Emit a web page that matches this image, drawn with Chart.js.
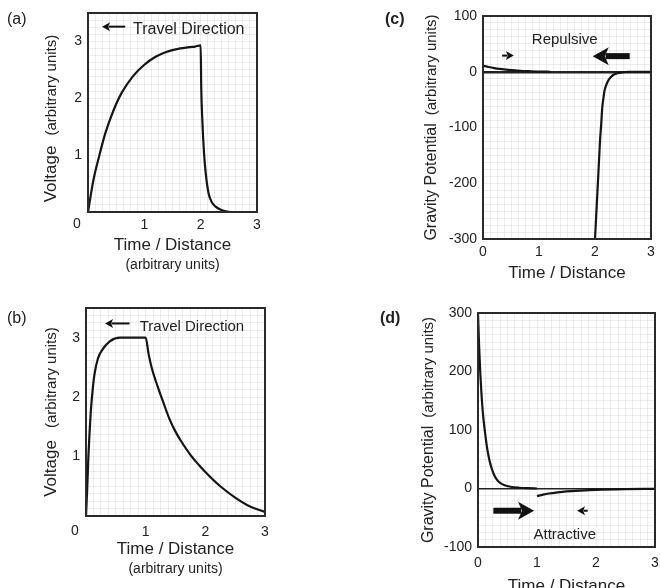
<!DOCTYPE html>
<html lang="en">
<head>
<meta charset="UTF-8">
<title>Voltage pulses and gravity potential</title>
<script src="https://cdn.jsdelivr.net/npm/chart.js"></script>
<style>
  body { margin: 0; background: #fff; }
  #page { position: relative; width: 660px; height: 588px; overflow: hidden; font-family: "Liberation Sans", Arial, sans-serif; color: #222; }
  .panel { position: absolute; width: 330px; height: 294px; }
  .tag { position: absolute; font-size: 16px; }
</style>
</head>
<body>
<div id="page">
  <div class="panel" style="left:0;top:0"><canvas id="chartA" width="330" height="294"></canvas></div>
  <div class="panel" style="left:0;top:294px"><canvas id="chartB" width="330" height="294"></canvas></div>
  <div class="panel" style="left:330px;top:0"><canvas id="chartC" width="330" height="294"></canvas></div>
  <div class="panel" style="left:330px;top:294px"><canvas id="chartD" width="330" height="294"></canvas></div>
  <div class="tag" style="left:7px;top:10px">(a)</div>
  <div class="tag" style="left:7px;top:309px">(b)</div>
  <div class="tag" style="left:385px;top:10px;font-weight:bold">(c)</div>
  <div class="tag" style="left:380px;top:309px;font-weight:bold">(d)</div>
</div>

<script>
// (a) voltage: slow rise, sharp fall at t = 2
var xA = [0, 0.1, 0.2, 0.3, 0.4, 0.5, 0.6, 0.8, 1.0, 1.2, 1.4, 1.6, 1.8, 1.9, 2.0, 2.01, 2.03, 2.06, 2.09, 2.14, 2.18, 2.22, 2.3, 2.37, 2.45, 2.52];
var yA = [0, 0.58, 0.99, 1.36, 1.65, 1.9, 2.1, 2.39, 2.59, 2.73, 2.82, 2.87, 2.9, 2.91, 2.93, 2.2, 1.6, 1.03, 0.68, 0.33, 0.21, 0.14, 0.07, 0.035, 0.01, 0];

// (b) voltage: sharp rise, flat top, slow fall after t = 1
var xB = [0, 0.02, 0.04, 0.06, 0.08, 0.1, 0.14, 0.2, 0.29, 0.4, 0.57, 0.8, 1.0, 1.05, 1.1, 1.2, 1.3, 1.4, 1.5, 1.6, 1.75, 1.9, 2.0, 2.25, 2.5, 2.75, 3.0];
var yB = [0, 0.45, 1.0, 1.41, 1.75, 2.0, 2.37, 2.65, 2.82, 2.94, 3.0, 3.0, 3.0, 2.72, 2.5, 2.18, 1.9, 1.63, 1.42, 1.25, 1.03, 0.85, 0.74, 0.5, 0.31, 0.16, 0.07];

// (c) gravity potential, repulsive: two pieces
var xC1 = [0, 0.1, 0.2, 0.3, 0.45, 0.6, 0.8, 1.0, 1.2];
var yC1 = [11, 8.5, 6.5, 5, 3.3, 2.2, 1, 0.4, 0];
var xC2 = [2.0, 2.03, 2.06, 2.09, 2.11, 2.13, 2.15, 2.17, 2.2, 2.23, 2.28, 2.34, 2.4, 2.48, 2.6, 3.0];
var yC2 = [-300, -242, -183, -123, -95, -64, -48, -34, -24, -17, -10, -5, -2.8, -1, 0, 0];

// (d) gravity potential, attractive: two pieces
var xD1 = [0, 0.02, 0.04, 0.06, 0.08, 0.1, 0.12, 0.15, 0.19, 0.23, 0.27, 0.32, 0.38, 0.45, 0.55, 0.7, 0.85, 1.0];
var yD1 = [300, 240, 195, 160, 132, 112, 95, 72, 50, 35, 24, 15, 9, 5.5, 3, 1.3, 0.5, 0];
var xD2 = [1.0, 1.1, 1.2, 1.35, 1.5, 1.75, 2.0, 2.5, 3.0];
var yD2 = [-13, -10.5, -8.5, -6.5, -5, -3.5, -2.4, -1.2, -0.6];

var FONT = '"Liberation Sans", Arial, sans-serif';
var INK = '#222';
var GRID = 'rgba(0,0,0,0.07)';

function labelEvery(step, hideZero) {
  return function (v) {
    var k = v / step;
    if (Math.abs(k - Math.round(k)) > 1e-6) return '';
    if (hideZero && Math.abs(v) < 1e-9) return '';
    return String(Math.round(v));
  };
}

function drawArrow(ctx, x1, x2, y, heavy) {
  // x1 tail, x2 head
  var dir = x2 > x1 ? 1 : -1;
  var headLen = heavy ? 16 : 8;
  var headHalf = heavy ? 9 : 4.5;
  ctx.fillStyle = '#111';
  ctx.strokeStyle = '#111';
  ctx.lineWidth = heavy ? 6 : 2;
  ctx.beginPath();
  ctx.moveTo(x1, y);
  ctx.lineTo(x2 - dir * headLen * 0.8, y);
  ctx.stroke();
  ctx.beginPath();
  ctx.moveTo(x2, y);
  ctx.lineTo(x2 - dir * headLen, y - headHalf);
  ctx.lineTo(x2 - dir * headLen * 0.75, y);
  ctx.lineTo(x2 - dir * headLen, y + headHalf);
  ctx.closePath();
  ctx.fill();
}

var decor = {
  id: 'decor',
  afterDraw: function (chart, args, o) {
    var ctx = chart.ctx, a = chart.chartArea, sx = chart.scales.x, sy = chart.scales.y;
    ctx.save();
    // frame around the plot
    ctx.strokeStyle = '#2a2a2a';
    ctx.lineWidth = 2;
    ctx.strokeRect(a.left, a.top, a.right - a.left, a.bottom - a.top);

    ctx.fillStyle = INK;

    // one shared "0" below-left of the origin
    if (o.origin) {
      ctx.font = '14px ' + FONT;
      ctx.textAlign = 'center';
      ctx.textBaseline = 'middle';
      ctx.fillText('0', a.left - 11, a.bottom + o.origin);
    }

    // y title, two font sizes, rotated
    ctx.textBaseline = 'alphabetic';
    var cy = (a.top + a.bottom) / 2 + (o.yShift || 0);
    ctx.save();
    ctx.translate(o.yTitleX, cy);
    ctx.rotate(-Math.PI / 2);
    ctx.font = o.yMain + 'px ' + FONT;
    var w1 = ctx.measureText(o.yTitle[0]).width;
    ctx.font = '15px ' + FONT;
    var w2 = ctx.measureText(o.yTitle[1]).width;
    var start = -(w1 + o.yGap + w2) / 2;
    ctx.textAlign = 'left';
    ctx.font = o.yMain + 'px ' + FONT;
    ctx.fillText(o.yTitle[0], start, 6);
    ctx.font = '15px ' + FONT;
    ctx.fillText(o.yTitle[1], start + w1 + o.yGap, 6);
    ctx.restore();

    // x title
    var cx = (a.left + a.right) / 2;
    ctx.textAlign = 'center';
    ctx.textBaseline = 'middle';
    ctx.font = '17px ' + FONT;
    ctx.fillText(o.xTitle[0], cx, o.xTitleY[0]);
    if (o.xTitle[1]) {
      ctx.font = '14px ' + FONT;
      ctx.fillText(o.xTitle[1], cx, o.xTitleY[1]);
    }

    // notes and arrows, placed in data units
    (o.notes || []).forEach(function (n) {
      var py = sy.getPixelForValue(n.y);
      if (n.kind === 'text') {
        ctx.font = n.size + 'px ' + FONT;
        ctx.textAlign = n.align;
        ctx.fillStyle = INK;
        ctx.fillText(n.text, sx.getPixelForValue(n.x), py);
      } else {
        drawArrow(ctx, sx.getPixelForValue(n.from), sx.getPixelForValue(n.to), py, n.heavy);
      }
    });
    ctx.restore();
  }
};

function series(xs, ys) {
  return {
    data: xs.map(function (x, i) { return { x: x, y: ys[i] }; }),
    showLine: true,
    borderColor: '#151515',
    borderWidth: 2.2,
    pointRadius: 0,
    cubicInterpolationMode: 'monotone'
  };
}

function panel(id, datasets, o) {
  return new Chart(document.getElementById(id), {
    type: 'scatter',
    data: { datasets: datasets },
    options: {
      responsive: false,
      animation: false,
      events: [],
      layout: { padding: o.pad },
      plugins: { legend: { display: false }, tooltip: { enabled: false }, decor: o.decor },
      scales: {
        x: {
          type: 'linear', min: 0, max: 3,
          afterFit: function (s) { s.height = 20; s.paddingLeft = 0; s.paddingRight = 0; },
          border: { display: false },
          grid: { color: GRID, drawTicks: false },
          ticks: { stepSize: 0.125, autoSkip: false, maxRotation: 0, padding: o.xPad,
                   callback: labelEvery(1, !!o.decor.origin), color: INK, font: { family: FONT, size: 14 } }
        },
        y: {
          type: 'linear', min: o.yMin, max: o.yMax,
          afterFit: function (s) { s.width = o.yW; s.paddingTop = 0; s.paddingBottom = 0; },
          border: { display: false },
          grid: {
            drawTicks: false,
            color: function (c) { return c.tick && c.tick.value === 0 ? '#222' : GRID; },
            lineWidth: function (c) { return c.tick && c.tick.value === 0 ? o.zeroW : 1; }
          },
          ticks: { stepSize: o.yStep, autoSkip: false, padding: 6,
                   callback: labelEvery(o.yLabelStep, !!o.decor.origin), color: INK, font: { family: FONT, size: 14 } }
        }
      }
    },
    plugins: [decor]
  });
}

panel('chartA', [series(xA, yA)], {
  pad: { left: 58, right: 73, top: 13, bottom: 62 }, yW: 30, xPad: 5,
  yMin: 0, yMax: 3.5, yStep: 0.125, yLabelStep: 1, zeroW: 1,
  decor: {
    origin: 12,
    yTitle: ['Voltage', '(arbitrary units)'], yMain: 17, yGap: 10, yTitleX: 50, yShift: 6,
    xTitle: ['Time / Distance', '(arbitrary units)'], xTitleY: [245, 265],
    notes: [
      { kind: 'arrow', from: 0.66, to: 0.25, y: 3.26, heavy: false },
      { kind: 'text', x: 0.8, y: 3.2, text: 'Travel Direction', size: 16, align: 'left' }
    ]
  }
});

panel('chartB', [series(xB, yB)], {
  pad: { left: 56, right: 65, top: 14, bottom: 52 }, yW: 30, xPad: 8,
  yMin: 0, yMax: 3.5, yStep: 0.125, yLabelStep: 1, zeroW: 1,
  decor: {
    origin: 15,
    yTitle: ['Voltage', '(arbitrary units)'], yMain: 17, yGap: 12, yTitleX: 50, yShift: 0,
    xTitle: ['Time / Distance', '(arbitrary units)'], xTitleY: [255, 275],
    notes: [
      { kind: 'arrow', from: 0.73, to: 0.32, y: 3.24, heavy: false },
      { kind: 'text', x: 0.9, y: 3.18, text: 'Travel Direction', size: 15, align: 'left' }
    ]
  }
});

panel('chartC', [series(xC1, yC1), series(xC2, yC2)], {
  pad: { left: 113, right: 9, top: 16, bottom: 35 }, yW: 40, xPad: 5,
  yMin: -300, yMax: 100, yStep: 12.5, yLabelStep: 100, zeroW: 2.5,
  decor: {
    yTitle: ['Gravity Potential', '(arbitrary units)'], yMain: 16, yGap: 8, yTitleX: 100, yShift: 0,
    xTitle: ['Time / Distance'], xTitleY: [273],
    notes: [
      { kind: 'text', x: 1.46, y: 58, text: 'Repulsive', size: 15, align: 'center' },
      { kind: 'arrow', from: 0.34, to: 0.55, y: 29, heavy: false },
      { kind: 'arrow', from: 2.62, to: 1.96, y: 28, heavy: true }
    ]
  }
});

panel('chartD', [series(xD1, yD1), series(xD2, yD2)], {
  pad: { left: 108, right: 5, top: 19, bottom: 21 }, yW: 40, xPad: 8,
  yMin: -100, yMax: 300, yStep: 12.5, yLabelStep: 100, zeroW: 1.5,
  decor: {
    yTitle: ['Gravity Potential', '(arbitrary units)'], yMain: 16, yGap: 8, yTitleX: 97, yShift: 0,
    xTitle: ['Time / Distance'], xTitleY: [292],
    notes: [
      { kind: 'text', x: 1.47, y: -80, text: 'Attractive', size: 15, align: 'center' },
      { kind: 'arrow', from: 0.26, to: 0.95, y: -38, heavy: true },
      { kind: 'arrow', from: 1.86, to: 1.68, y: -38, heavy: false }
    ]
  }
});
</script>
</body>
</html>
